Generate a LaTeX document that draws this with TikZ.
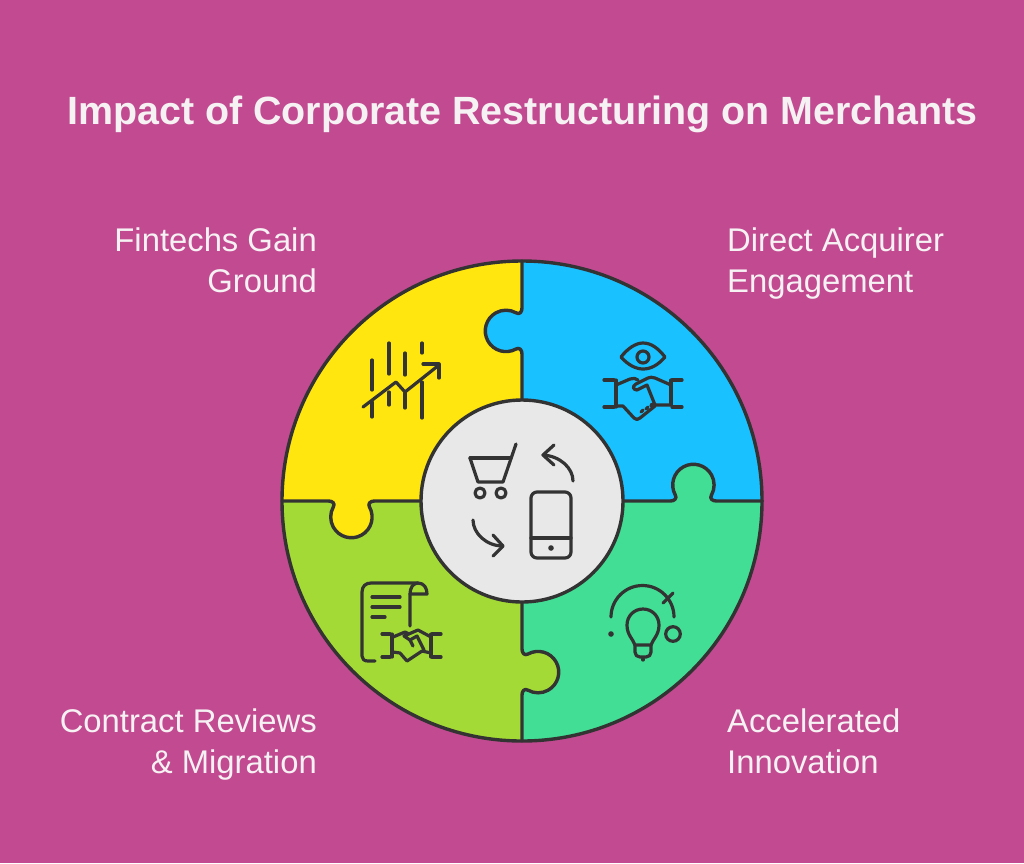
\documentclass[tikz,border=0pt]{standalone}
\usepackage{fontspec}
\setmainfont{Liberation Sans}
\definecolor{bgc}{HTML}{C24A91}
\definecolor{yel}{HTML}{FFE60F}
\definecolor{blu}{HTML}{1AC1FF}
\definecolor{grn}{HTML}{43DE95}
\definecolor{lim}{HTML}{A4DA35}
\definecolor{mid}{HTML}{E8E8E8}
\definecolor{ink}{HTML}{333333}
\definecolor{txt}{HTML}{F6F1F3}
\tikzset{
  outline/.style={draw=ink,line width=3.4pt,line cap=round,line join=round},
  icon/.style={draw=ink,line width=3.2pt,line cap=round,line join=round},
  titletext/.style={text=txt,font=\bfseries\fontsize{39.4}{44}\selectfont,inner sep=0pt,anchor=base},
  labelL/.style={text=txt,font=\fontsize{32.8}{40.5}\selectfont,align=right,anchor=base east,inner sep=0pt},
  labelR/.style={text=txt,font=\fontsize{32.8}{40.5}\selectfont,align=left,anchor=base west,inner sep=0pt},
}
\newcommand{\kshape}{(-23,0) .. controls (-19,0) and (-16,-2.5) .. (-18,-6) arc[start angle=151,end angle=389,radius=20.7] .. controls (16,-2.5) and (19,0) .. (23,0)}
% x, y, rotation, fill, u start, u end
\newcommand{\knob}[6]{%
  \begin{scope}[shift={(#1,#2)},rotate=#3]
    \fill[#4] \kshape -- cycle;
    \draw[outline] (#5,0) -- \kshape -- (#6,0);
  \end{scope}}
\begin{document}
\begin{tikzpicture}[x=1pt,y=-1pt]
\useasboundingbox (0,0) rectangle (1024,863);
\fill[bgc] (0,0) rectangle (1024,863);

\node[titletext] (title) at (522.5,124) {Impact of Corporate Restructuring on Merchants};
\node[labelL] (fin) at (317,292) {Fintechs Gain\\Ground};
\node[labelR] (dir) at (727,292) {Direct Acquirer\\Engagement};
\node[labelL] (con) at (317,773) {Contract Reviews\\\& Migration};
\node[labelR] (acc) at (727,773) {Accelerated\\Innovation};

% quadrants
\fill[yel] (522,501) -- (282,501) arc[start angle=180,end angle=270,radius=240] -- cycle;
\fill[blu] (522,501) -- (522,261) arc[start angle=270,end angle=360,radius=240] -- cycle;
\fill[grn] (522,501) -- (762,501) arc[start angle=0,end angle=90,radius=240] -- cycle;
\fill[lim] (522,501) -- (522,741) arc[start angle=90,end angle=180,radius=240] -- cycle;

% puzzle seams
\knob{522}{331}{90}{blu}{-69}{70}
\knob{693.3}{501}{0}{grn}{-70}{69}
\knob{522}{672}{-90}{lim}{-71}{69}
\knob{351.5}{501}{180}{yel}{-69}{69.5}

\draw[outline] (522,501) circle[radius=240];
\draw[outline,fill=mid] (522,501) circle[radius=101];

% chart icon
\draw[icon] (372,360)--(372,390) (372,402)--(372,417)
  (389,343)--(389,374) (389,392)--(389,405)
  (405,353)--(405,375) (405,393)--(405,408)
  (422,343)--(422,353) (422,382)--(422,418);
\draw[icon] (363,407)--(396,382)--(405,392)--(439,365);
\draw[icon] (423,364)--(439,364)--(439,378);

% eye
\draw[icon] (621,357) .. controls (628,348) and (636,343) .. (643,343) .. controls (651,343) and (658,348) .. (665,357) .. controls (658,365) and (651,369) .. (643,369) .. controls (636,369) and (628,365) .. (621,357) -- cycle;
\draw[icon] (643,357) circle[radius=6];
% handshake blue
\draw[icon] (604,380)--(614,380) (604,407)--(614,407) (682,380)--(672,380) (682,407)--(672,407);
\draw[icon] (616,380)--(616,407) (671,380)--(671,405);
\draw[icon] (616,385)--(630,379) .. controls (633,378) and (636,378) .. (638,380);
\draw[icon] (616,406)--(623,406)--(634,418) .. controls (636,420) and (638,420) .. (640,418)--(655,406);
\draw[icon] (671,385)--(655,378) .. controls (652,377) and (650,377) .. (648,378)--(636,384) .. controls (632,386) and (633,390) .. (637,390)--(647,385)--(655,405)--(670,405);
\draw[icon] (641,412)--(643,410) (646,409)--(648,407) (651,406)--(652,404);

% document
\draw[icon] (375,661)--(368,661) .. controls (364,661) and (362,659) .. (362,656)--(362,592) .. controls (362,586) and (366,583) .. (371,583)--(418,583) .. controls (424,583) and (427,588) .. (427,594)--(410,594);
\draw[icon] (418,583) .. controls (413,583) and (410,588) .. (410,594)--(410,626);
\draw[icon] (372,597)--(400,597) (372,607)--(400,607) (372,617)--(385,617);
% handshake lime
\draw[icon] (382,634)--(390,634) (382,657)--(390,657) (441,634)--(432,634) (441,657)--(432,657);
\draw[icon] (392,634)--(392,657) (431,634)--(431,657);
\draw[icon] (393,637)--(405,632)--(409,634);
\draw[icon] (393,652)--(400,653)--(407,661)--(422,651)--(431,653);
\draw[icon] (431,637)--(418,630)--(404,636)--(410,640)--(417,636)--(424,650);
\draw[icon] (410,640)--(413,646);

% bulb
\draw[icon] (611,617) arc[start angle=180,end angle=360,radius=31.5];
\draw[icon] (663,603)--(673,593);
\fill[ink] (611,634) circle[radius=2.8];
\draw[icon] (673,634) circle[radius=7.3];
\draw[icon] (635,645) .. controls (633,639) and (627,635) .. (627,625) .. controls (627,616) and (634,609) .. (643,609) .. controls (652,609) and (659,616) .. (659,625) .. controls (659,635) and (653,639) .. (651,645)--cycle;
\draw[icon] (635,645)--(635,652) .. controls (635,655) and (637,657) .. (640,657)--(646,657) .. controls (649,657) and (651,655) .. (651,652)--(651,645);
\draw[icon] (643,659)--(643,660);

% centre icon
\draw[icon] (470,458)--(511,458);
\draw[icon] (470,458)--(478,482)--(503,482)--(516,444);
\draw[icon] (480,493) circle[radius=5];
\draw[icon] (501,493) circle[radius=5];
\draw[icon] (537,492) -- (565,492) arc[start angle=270,end angle=360,radius=6] -- (571,552) arc[start angle=0,end angle=90,radius=6] -- (537,558) arc[start angle=90,end angle=180,radius=6] -- (531,498) arc[start angle=180,end angle=270,radius=6] -- cycle;
\draw[icon] (531,538)--(571,538);
\fill[ink] (551,548) circle[radius=2.8];
\draw[icon] (573,481) .. controls (573,468) and (560,456) .. (543,455);
\draw[icon] (554,445)--(543,455)--(554,465);
\draw[icon] (473,520) .. controls (473,533) and (486,546) .. (503,546);
\draw[icon] (493,535)--(503,546)--(493,556);
\end{tikzpicture}
\end{document}
